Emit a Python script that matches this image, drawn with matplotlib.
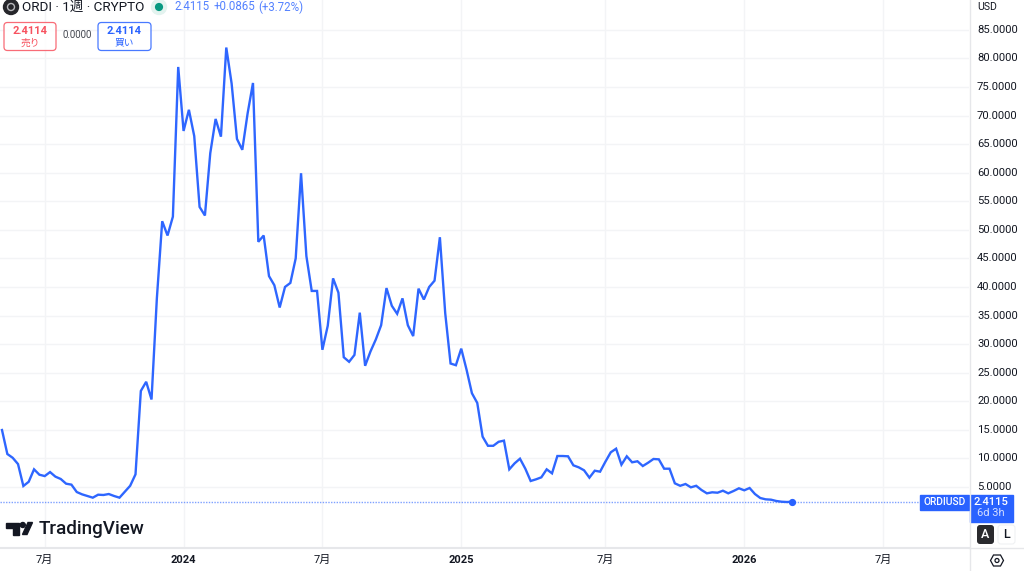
import matplotlib
matplotlib.use('Agg')
import matplotlib.pyplot as plt
from matplotlib.patches import Circle, FancyBboxPatch, Polygon, Rectangle

plt.rcParams['font.family'] = ['Roboto', 'Noto Sans CJK JP', 'DejaVu Sans']

# weekly close of ORDI/USD
closes = [14.96, 10.76, 10.1, 9.0, 5.16, 5.9, 8.08, 7.14, 6.9, 7.6,
          6.8, 6.39, 5.57, 5.4, 4.11, 3.7, 3.41, 3.12, 3.64, 3.59,
          3.76, 3.41, 3.12, 4.17, 5.2, 7.2, 21.8, 23.4, 20.3, 38.0,
          51.5, 49.0, 52.3, 78.5, 67.3, 71.0, 66.4, 54.0, 52.5, 63.4,
          69.4, 66.3, 81.9, 75.6, 65.9, 64.0, 70.4, 75.7, 47.9, 49.0,
          41.9, 40.3, 36.4, 40.0, 40.7, 45.0, 59.9, 45.4, 39.3, 39.3,
          29.0, 33.2, 41.5, 39.0, 27.7, 26.9, 28.1, 35.5, 26.2, 28.7,
          30.8, 33.3, 39.8, 36.7, 35.3, 38.0, 33.3, 31.4, 39.7, 37.8,
          40.0, 41.1, 48.7, 35.4, 26.6, 26.3, 29.2, 25.5, 21.4, 19.7,
          13.8, 12.2, 12.2, 12.9, 13.1, 8.08, 9.13, 9.94, 8.19, 6.04,
          6.33, 6.68, 8.08, 7.38, 10.41, 10.41, 10.36, 8.78, 8.43, 7.91,
          6.62, 7.84, 7.67, 9.42, 11.06, 11.69, 8.89, 10.36, 9.31, 9.49,
          8.66, 9.24, 9.89, 9.83, 8.19, 8.19, 5.63, 5.2, 5.51, 4.93,
          5.2, 4.46, 3.88, 4.06, 3.99, 4.34, 3.88, 4.29, 4.76, 4.41,
          4.81, 3.76, 3.06, 2.83, 2.77, 2.54, 2.41, 2.36, 2.4115]
last_price = 2.4115

price_ticks = list(range(5, 90, 5))
week_ticks = [8, 34, 60, 86, 113, 139, 165]
week_labels = ['7月', '2024', '7月', '2025', '7月', '2026', '7月']

BLUE = '#2962ff'
RED = '#f7525f'
DARK = '#131722'
GRID = '#f3f4f6'
EDGE = '#e6e7ea'

W, H = 1024, 571
fig = plt.figure(figsize=(W / 100, H / 100), dpi=100, facecolor='white')

# chart pane, 969 x 547 px
ax = fig.add_axes([0, 1 - 547 / H, 969 / W, 547 / H])
ax.set_xlim(-2 / 5.34, 967 / 5.34)
ax.set_ylim((515.5 - 547) / 5.714, 515.5 / 5.714)
for s in ax.spines.values():
    s.set_visible(False)
ax.set_xticks(week_ticks)
ax.set_yticks(price_ticks)
ax.tick_params(length=0, labelbottom=False, labelleft=False)
ax.grid(True, color=GRID, lw=1)
ax.set_axisbelow(True)
ax.axhline(last_price, color=BLUE, lw=1, ls=(0, (1, 1)), alpha=0.6)
ax.plot(range(len(closes)), closes, color='#2e66ff', lw=1.7, solid_joinstyle='miter')
ax.plot(len(closes) - 1, closes[-1], 'o', color=BLUE, ms=4.2)

# everything around the pane, in pixel coordinates
ui = fig.add_axes([0, 0, 1, 1], facecolor='none')
ui.set_xlim(0, W)
ui.set_ylim(H, 0)
ui.axis('off')

ui.plot([969.5, 969.5], [0, H], color=EDGE, lw=1)
ui.plot([0, 969], [547.5, 547.5], color=EDGE, lw=1.5)
ui.plot([969, W], [547.5, 547.5], color=EDGE, lw=1)

ui.text(977, 7, 'USD', fontsize=7.6, color=DARK, va='center')
for p in price_ticks:
    ui.text(977, 515.5 - 5.714 * p, f'{p:.4f}', fontsize=8.1, color=DARK, va='center')

for i, lab in zip(week_ticks, week_labels):
    ui.text(2 + 5.34 * i, 560, lab, fontsize=8, color=DARK, ha='center', va='center',
            fontweight='bold' if lab != '7月' else 'normal')

# header
ui.add_patch(Circle((11, 7), 7.5, color='#26262b'))
ui.add_patch(Circle((11, 7), 3.5, fc='none', ec='#b8b8bc', lw=1))
ui.text(22, 7, 'ORDI · 1週 · CRYPTO', fontsize=9.7, color=DARK, va='center')
ui.add_patch(Circle((159, 7), 7.5, color='#e3f3ef'))
ui.add_patch(Circle((159, 7), 3.4, color='#089981'))
ui.text(174, 7, '2.4115', fontsize=8.3, color=BLUE, alpha=0.8, va='center')
ui.text(214, 7, '+0.0865', fontsize=8.3, color=BLUE, alpha=0.8, va='center')
ui.text(258, 7, '(+3.72%)', fontsize=8.3, color=BLUE, alpha=0.8, va='center')

# sell / buy boxes
ui.add_patch(FancyBboxPatch((4, 22.5), 52, 28, boxstyle='round,pad=0,rounding_size=3.5',
                            fc='white', ec=RED, lw=0.9, alpha=0.85))
ui.text(30, 30.5, '2.4114', fontsize=8, color=RED, ha='center', va='center', fontweight='bold')
ui.text(30, 42.5, '売り', fontsize=7, color=RED, ha='center', va='center')
ui.text(77.5, 35.5, '0.0000', fontsize=6.9, color='#43464f', ha='center', va='center')
ui.add_patch(FancyBboxPatch((98, 22.5), 53, 28, boxstyle='round,pad=0,rounding_size=3.5',
                            fc='white', ec=BLUE, lw=0.9, alpha=0.85))
ui.text(124.5, 30.5, '2.4114', fontsize=8, color=BLUE, ha='center', va='center', fontweight='bold')
ui.text(124.5, 42.5, '買い', fontsize=7, color=BLUE, ha='center', va='center')

# logo
ui.add_patch(Polygon([(6, 522.5), (18.5, 522.5), (18.5, 534.5), (12.5, 534.5), (12.5, 528), (6, 528)], color=DARK))
ui.add_patch(Circle((22.8, 525), 2.5, color=DARK))
ui.add_patch(Polygon([(28, 522.5), (32.5, 522.5), (27, 534.5), (22.5, 534.5)], color=DARK))
ui.text(38.5, 529.5, 'TradingView', fontsize=13.6, color=DARK, va='center', fontweight='medium')

# last price tags
ui.add_patch(Rectangle((920, 494.5), 49, 15, color=BLUE))
ui.text(944.5, 502, 'ORDIUSD', fontsize=7.4, color='white', ha='center', va='center', fontweight='medium')
ui.add_patch(Rectangle((969.5, 494.5), 43.5, 27, color=BLUE))
ui.text(991, 502, '2.4115', fontsize=8.1, color='white', ha='center', va='center', fontweight='medium')
ui.text(991, 513.5, '6d 3h', fontsize=8, color='#d4deff', ha='center', va='center')

# auto / log buttons and settings icon
ui.add_patch(FancyBboxPatch((977, 525), 17, 19, boxstyle='round,pad=0,rounding_size=3', fc='#2a2a2e', ec='none'))
ui.text(985.5, 535, 'A', fontsize=9, color='white', ha='center', va='center', fontweight='medium')
ui.add_patch(FancyBboxPatch((998, 525), 17, 19, boxstyle='round,pad=0,rounding_size=3', fc='white', ec='#f0f1f3', lw=0.8))
ui.text(1006.5, 535, 'L', fontsize=9, color=DARK, ha='center', va='center', fontweight='medium')
ui.add_patch(Polygon([(990.5, 560.5), (993.5, 555), (1000.5, 555), (1003.5, 560.5), (1000.5, 566), (993.5, 566)],
                     fc='none', ec=DARK, lw=0.9))
ui.add_patch(Circle((997, 560.5), 2, fc='none', ec=DARK, lw=0.9))

fig.savefig('out.png', dpi=100)
